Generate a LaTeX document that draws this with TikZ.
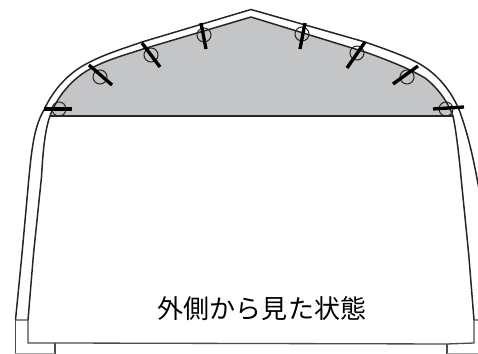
\documentclass[tikz,border=0pt]{standalone}
\usepackage{fontspec}
\newfontfamily\jpfont{Noto Sans CJK JP}
\definecolor{roofgray}{HTML}{C4C5C7}
\tikzset{
	wall/.style={line width=0.85pt, black!85, line join=round},
	base/.style={line width=0.75pt, black!70},
	pin/.style={line width=1.9pt, black},
	ring/.style={line width=0.6pt, black!85},
}
\begin{document}
\begin{tikzpicture}[x=0.02cm, y=-0.02cm]
	\clip (0,0) rectangle (478,354);
	\fill [white] (0,0) rectangle (478,354);
	\fill [roofgray] (50,116) .. controls (56,99) and (70,80) .. (90,69) .. controls (106,60) and (125,55) .. (143,49) -- (251,17) -- (365,52) .. controls (385,59) and (408,68) .. (425,78) .. controls (438,88) and (448,102) .. (453,116) -- cycle;
	% outer line
	\draw [wall] (15.5,320) -- (22,254) -- (29,177) .. controls (32,145) and (35,125) .. (44,110) .. controls (54,88) and (70,72) .. (88,63) .. controls (105,54) and (125,48) .. (142,42) -- (251,9.5) -- (365,42) .. controls (385,49) and (405,56) .. (418,63) .. controls (438,74) and (452,92) .. (460,112) .. controls (468,135) and (473,155) .. (480,195);
	% inner line
	\draw [wall] (28,320) -- (33.5,254) -- (41.5,177) .. controls (43,150) and (45,130) .. (50,116) .. controls (56,99) and (70,80) .. (90,69) .. controls (106,60) and (125,55) .. (143,49) -- (251,17) -- (365,52) .. controls (385,59) and (408,68) .. (425,78) .. controls (438,88) and (448,102) .. (453,116) .. controls (456,130) and (459,155) .. (461,177) -- (468.7,254) -- (474,320);
	\draw [wall] (50,116) -- (453,116);
	% feet
	\draw [base] (15.5,320) -- (28,320) -- (28,343) -- (55,343) -- (447,344) -- (474,343) -- (474,320) -- (480,320);
	\draw [base] (15.5,320) -- (15.5,354);
	\draw [base] (55,343) -- (55,354);
	\draw [base] (447,344) -- (447,354);
	\draw [black!35, line width=0.6pt] (15,353.5) -- (55,353.5) (447,353.5) -- (478,353.5);
	% clips
	\foreach \cx/\cy/\ax/\ay/\bx/\by in {
		59/109/44/109/72/109,
		100/77/89/65/112/85,
		151/55/142/43/160/67,
		204/35/201/23/206/49,
		302/34/305/23/300/49,
		357/53/365/42/347/68,
		407/77/418/66/393/84,
		446/109/433/109/464/107} {
		\draw [ring] (\cx,\cy) circle (7);
		\draw [pin] (\ax,\ay) -- (\bx,\by);
	}
	\node (caption) at (262,308.5) {\jpfont\fontsize{14.8pt}{16pt}\selectfont 外側から見た状態};
\end{tikzpicture}
\end{document}
